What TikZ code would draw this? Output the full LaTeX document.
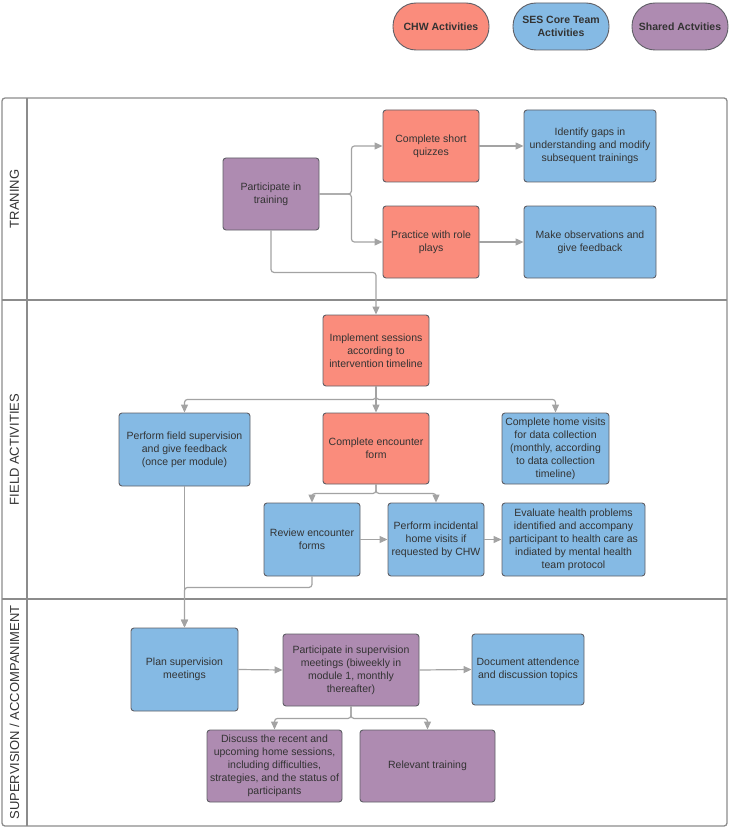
\documentclass[tikz,border=0pt]{standalone}
\usepackage{fontspec}
\setmainfont{Liberation Sans}
\usepackage{xcolor}
\usepackage{tikz}
\usetikzlibrary{arrows.meta}

\definecolor{chwred}{HTML}{FA8C7C}
\definecolor{sesblue}{HTML}{85BAE4}
\definecolor{sharedpurple}{HTML}{AE8BB1}
\definecolor{boxedge}{HTML}{5F5F66}
\definecolor{lanegray}{HTML}{8C8C8C}
\definecolor{flowgray}{HTML}{A3A3A3}
\definecolor{inkgray}{HTML}{333333}

\begin{document}
\begin{tikzpicture}[x=1pt,y=-1pt,>={Triangle[length=8pt,width=7pt]},
  box/.style={draw=boxedge, line width=0.9pt, rounded corners=3pt, align=center, text=inkgray, font=\fontsize{10.5}{13}\selectfont, inner sep=1pt},
  chw/.style={box, fill=chwred},
  ses/.style={box, fill=sesblue},
  shared/.style={box, fill=sharedpurple},
  legend/.style={box, rounded corners=23pt, minimum width=96pt, minimum height=47pt, font=\fontsize{10.5}{13}\selectfont\bfseries},
  flow/.style={->, draw=flowgray, line width=1.2pt, rounded corners=3pt},
  lane/.style={rotate=90, font=\fontsize{13}{15}\selectfont, text=inkgray}
]
\useasboundingbox (0,0) rectangle (730,829);

% Legend
\node[legend, fill=chwred] (legchw) at (441,26.5) {CHW Activities};
\node[legend, fill=sesblue] (legses) at (561,26.5) {SES Core Team\\Activities};
\node[legend, fill=sharedpurple] (legshared) at (680,26.5) {Shared Actvities};

% Draw swimlanes
\draw[lanegray, line width=1.3pt, rounded corners=3pt] (2,98) rectangle (727,826);
\draw[lanegray, line width=1.3pt] (27,98) -- (27,826);
\draw[lanegray, line width=1.3pt] (2,300) -- (727,300);
\draw[lanegray, line width=1.3pt] (2,599) -- (727,599);
\node[lane] (lanetrain) at (14.5,199) {TRANING};
\node[lane] (lanefield) at (14.5,449.5) {FIELD ACTIVITIES};
\node[lane] (lanesup) at (14.5,712.5) {SUPERVISION / ACCOMPANIMENT};

% Training
\node[shared, minimum width=96pt, minimum height=72pt] (ptrain) at (271,194) {Participate in\\training};
\node[chw, minimum width=96pt, minimum height=72pt] (quiz) at (431,146) {Complete short\\quizzes};
\node[chw, minimum width=96pt, minimum height=72pt] (role) at (431,242) {Practice with role\\plays};
\node[ses, minimum width=132pt, minimum height=72pt] (gaps) at (590,146) {Identify gaps in\\understanding and modify\\subsequent trainings};
\node[ses, minimum width=132pt, minimum height=72pt] (obs) at (590,242) {Make observations and\\give feedback};

% Field activities
\node[chw, minimum width=106pt, minimum height=71pt] (impl) at (376,350.5) {Implement sessions\\according to\\intervention timeline};
\node[ses, minimum width=131pt, minimum height=73pt] (fsup) at (184.5,449.5) {Perform field supervision\\and give feedback\\(once per module)};
\node[chw, minimum width=106pt, minimum height=71pt] (enc) at (376,448.5) {Complete encounter\\form};
\node[ses, minimum width=107pt, minimum height=71pt] (home) at (555.5,448.5) {Complete home visits\\for data collection\\(monthly, according\\to data collection\\timeline)};
\node[ses, minimum width=96pt, minimum height=73pt] (rev) at (312,539.5) {Review encounter\\forms};
\node[ses, minimum width=96pt, minimum height=73pt] (inc) at (436,539.5) {Perform incidental\\home visits if\\requested by CHW};
\node[ses, minimum width=143pt, minimum height=73pt] (eval) at (573.5,539.5) {Evaluate health problems\\identified and accompany\\participant to health care as\\indiated by mental health\\team protocol};

% Supervision / accompaniment
\node[ses, minimum width=107pt, minimum height=83pt] (plan) at (184.5,669.5) {Plan supervision\\meetings};
\node[shared, minimum width=136pt, minimum height=72pt] (meet) at (351,670) {Participate in supervision\\meetings (biweekly in\\module 1, monthly\\thereafter)};
\node[ses, minimum width=112pt, minimum height=71pt] (doc) at (528,669.5) {Document attendence\\and discussion topics};
\node[shared, minimum width=135pt, minimum height=72pt] (disc) at (274.5,766) {Discuss the recent and\\upcoming home sessions,\\including difficulties,\\strategies, and the status of\\participants};
\node[shared, minimum width=135pt, minimum height=72pt] (rel) at (427.5,766) {Relevant training};

% Draw connectors
\draw[flow] (ptrain.east) -- ++(32,0) |- (quiz.west);
\draw[flow] (ptrain.east) -- ++(32,0) |- (role.west);
\draw[flow] (quiz.east) -- (gaps.west);
\draw[flow] (role.east) -- (obs.west);
\draw[flow] (ptrain.south) -- ++(0,42) -| (impl.north);

\draw[flow] (impl.south) -- ++(0,13) -| (fsup.north);
\draw[flow] (impl.south) -- (enc.north);
\draw[flow] (impl.south) -- ++(0,13) -| (home.north);
\draw[flow] (enc.south) -- ++(0,9) -| (rev.north);
\draw[flow] (enc.south) -- ++(0,9) -| (inc.north);
\draw[flow] (rev.east) -- (inc.west);
\draw[flow] (inc.east) -- (eval.west);
\draw[flow] (fsup.south) -- (plan.north);
\draw[flow] (rev.south) -- ++(0,11) -| (plan.north);

\draw[flow] (plan.east) -- (meet.west);
\draw[flow] (meet.east) -- (doc.west);
\draw[flow] (meet.south) -- ++(0,12) -| (disc.north);
\draw[flow] (meet.south) -- ++(0,12) -| (rel.north);

\end{tikzpicture}
\end{document}
